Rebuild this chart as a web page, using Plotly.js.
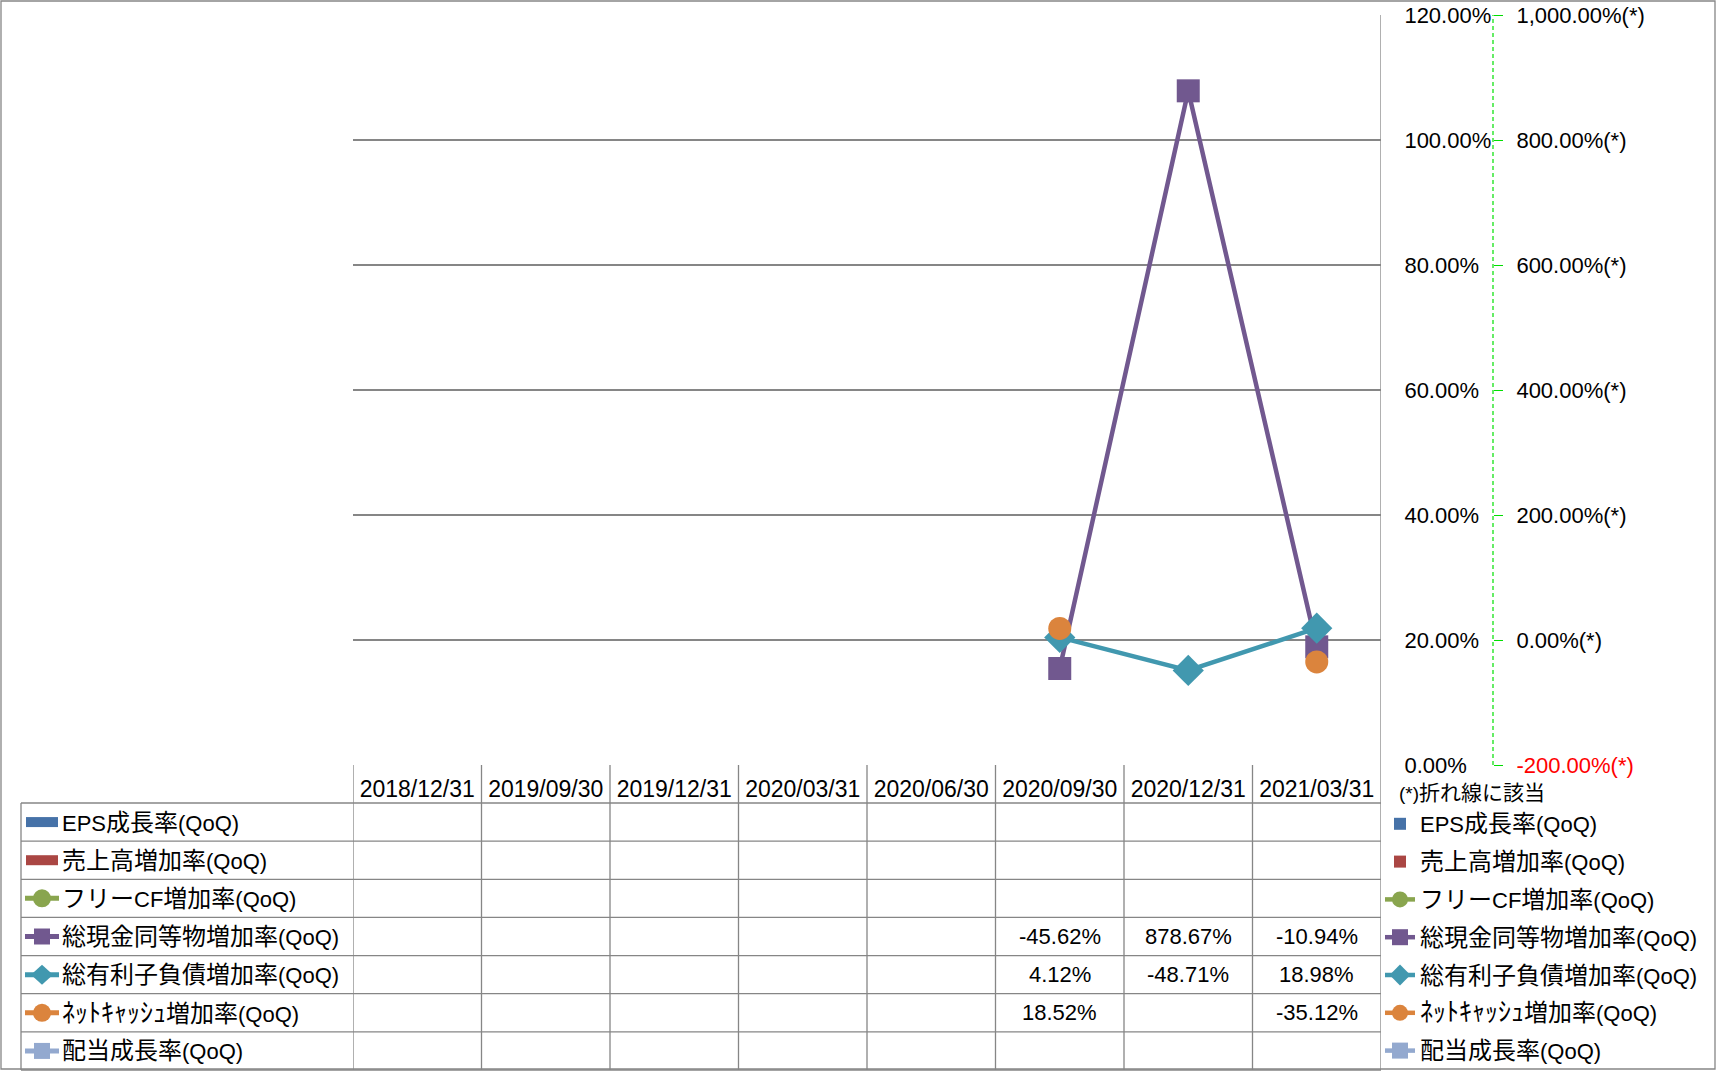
<!DOCTYPE html>
<html><head><meta charset="utf-8">
<script src="https://cdn.plot.ly/plotly-3.0.1.min.js"></script>
<style>html,body{margin:0;padding:0;background:#fff}#chart{width:1717px;height:1071px}</style>
</head><body><div id="chart"></div>
<script>
// ---------- data ----------
const categories = ['2018/12/31','2019/09/30','2019/12/31','2020/03/31','2020/06/30','2020/09/30','2020/12/31','2021/03/31'];
const seriesNames = ['EPS成長率(QoQ)','売上高増加率(QoQ)','フリーCF増加率(QoQ)','総現金同等物増加率(QoQ)','総有利子負債増加率(QoQ)','ﾈｯﾄｷｬｯｼｭ増加率(QoQ)','配当成長率(QoQ)'];
const epsGrowth      = [null,null,null,null,null,null,null,null];
const salesGrowth    = [null,null,null,null,null,null,null,null];
const fcfGrowth      = [null,null,null,null,null,null,null,null];
const cashGrowth     = [null,null,null,null,null,-45.62,878.67,-10.94];
const debtGrowth     = [null,null,null,null,null,4.12,-48.71,18.98];
const netCashGrowth  = [null,null,null,null,null,18.52,null,-35.12];
const dividendGrowth = [null,null,null,null,null,null,null,null];
const leftTickVals  = [0,20,40,60,80,100,120];
const leftTickText  = ['0.00%','20.00%','40.00%','60.00%','80.00%','100.00%','120.00%'];
const rightTickVals = [-200,0,200,400,600,800,1000];
const rightTickText = ['<span style="color:#FF0000">-200.00%(*)</span>','0.00%(*)','200.00%(*)','400.00%(*)','600.00%(*)','800.00%(*)','1,000.00%(*)'];
const noteText = '(*)折れ線に該当';

// ---------- styles ----------
const seriesValues = [epsGrowth,salesGrowth,fcfGrowth,cashGrowth,debtGrowth,netCashGrowth,dividendGrowth];
const styles = [
  {kind:'bar',  color:'#4672A8'},
  {kind:'bar',  color:'#AA4643'},
  {kind:'line', color:'#89A54E', symbol:'circle', size:23},
  {kind:'line', color:'#71588F', symbol:'square', size:23},
  {kind:'line', color:'#4198AF', symbol:'diamond', size:24},
  {kind:'line', color:'#DB843D', symbol:'circle', size:23},
  {kind:'line', color:'#93A9CF', symbol:'square', size:23}
];
const FONT = 'Liberation Sans, Arial, Noto Sans CJK JP, sans-serif';
const GRID = '#868686';
const W = 1717, H = 1071;
const ML = 353, MR = 100, MT = 15, MB = 306;
const PW = W - ML - MR, PH = H - MT - MB;
const px2x = px => (px - ML) / PW;
const py2y = py => (H - MB - py) / PH;
const plotRight = 1381;
const tableTop = 803, rowH = (1070 - 803) / 7, tableBottom = 1070;

// wider rendering for Japanese glyphs (as in the original's font)
function styleLabel(text, cjkSize, halfSize) {
  return text
    .replace(/[\uFF61-\uFF9F]+/g, m => `<span style="font-size:${halfSize}px">${m}</span>`)
    .replace(/[\u3000-\u30FF\u4E00-\u9FFF]+/g, m => `<span style="font-size:${cjkSize}px">${m}</span>`);
}

const traces = seriesNames.map((name, i) => {
  const st = styles[i];
  const label = styleLabel(name, 24, 26);
  if (st.kind === 'bar') {
    return {type:'bar', name:label, x:categories, y:seriesValues[i], yaxis:'y',
      marker:{color:st.color}, legendgroup:'g'+i, hoverinfo:'skip'};
  }
  return {type:'scatter', mode:'lines+markers', name:label, x:categories, y:seriesValues[i], yaxis:'y2',
    line:{color:st.color, width:4.5}, marker:{color:st.color, symbol:st.symbol, size:st.size},
    connectgaps:false, legendgroup:'g'+i, cliponaxis:false};
});

const shapes = [];
const annotations = [];
// outer border
shapes.push({type:'rect', xref:'paper', yref:'paper', x0:px2x(1), x1:px2x(1715), y0:py2y(1), y1:py2y(1069), line:{color:GRID, width:1.3}});
// table column lines
for (let k = 0; k <= categories.length; k++) {
  shapes.push({type:'line', xref:'x', yref:'paper', x0:k-0.5, x1:k-0.5,
    y0: k === categories.length ? 1 : 0, y1: py2y(tableBottom), line:{color:GRID, width:1.3}});
}
// table row lines
for (let r = 0; r <= 7; r++) {
  const y = py2y(tableTop + r*rowH);
  shapes.push({type:'line', xref:'paper', yref:'paper', x0:px2x(21), x1:px2x(plotRight), y0:y, y1:y, line:{color:GRID, width:1.3}});
}
shapes.push({type:'line', xref:'paper', yref:'paper', x0:px2x(21), x1:px2x(21), y0:py2y(tableTop), y1:py2y(tableBottom), line:{color:GRID, width:1.3}});
// secondary axis dashed line
shapes.push({type:'line', xref:'paper', yref:'paper', x0:px2x(1493), x1:px2x(1493), y0:0, y1:1, line:{color:'#00E000', width:1.2, dash:'4px,3px'}});

// note under the secondary axis
annotations.push({xref:'paper', yref:'paper', x:px2x(1397), y:py2y(792), xanchor:'left', yanchor:'middle',
  text:styleLabel(noteText, 21, 21), showarrow:false, font:{family:FONT, size:19, color:'#000'}});

// table cells + left legend keys
seriesNames.forEach((name, i) => {
  const cy = tableTop + rowH*(i+0.5);
  const st = styles[i];
  annotations.push({xref:'paper', yref:'paper', x:px2x(60), y:py2y(cy), xanchor:'left', yanchor:'middle',
    text:styleLabel(name, 24, 26), showarrow:false, font:{family:FONT, size:22, color:'#000'}});
  if (st.kind === 'bar') {
    shapes.push({type:'rect', xref:'paper', yref:'paper', x0:px2x(26), x1:px2x(58), y0:py2y(cy-5), y1:py2y(cy+5),
      fillcolor:st.color, line:{width:0}});
  } else {
    shapes.push({type:'line', xref:'paper', yref:'paper', x0:px2x(25), x1:px2x(59), y0:py2y(cy), y1:py2y(cy),
      line:{color:st.color, width:5}});
    if (st.symbol === 'circle') {
      shapes.push({type:'circle', xref:'paper', yref:'paper', x0:px2x(33), x1:px2x(51), y0:py2y(cy-9), y1:py2y(cy+9),
        fillcolor:st.color, line:{width:0}});
    } else if (st.symbol === 'square') {
      shapes.push({type:'rect', xref:'paper', yref:'paper', x0:px2x(34), x1:px2x(50), y0:py2y(cy-8), y1:py2y(cy+8),
        fillcolor:st.color, line:{width:0}});
    } else {
      const xs = [px2x(31), px2x(42), px2x(53), px2x(42)];
      const ys = [py2y(cy), py2y(cy-10), py2y(cy), py2y(cy+10)];
      shapes.push({type:'path', xref:'paper', yref:'paper',
        path:`M ${xs[0]} ${ys[0]} L ${xs[1]} ${ys[1]} L ${xs[2]} ${ys[2]} L ${xs[3]} ${ys[3]} Z`,
        fillcolor:st.color, line:{width:0}});
    }
  }
  seriesValues[i].forEach((v, j) => {
    if (v === null) return;
    annotations.push({xref:'x', yref:'paper', x:categories[j], y:py2y(cy), xanchor:'center', yanchor:'middle',
      text:v.toFixed(2)+'%', showarrow:false, font:{family:FONT, size:22, color:'#000'}});
  });
});

const layout = {
  width:W, height:H,
  margin:{l:ML, r:MR, t:MT, b:MB, pad:0, autoexpand:false},
  paper_bgcolor:'#fff', plot_bgcolor:'rgba(0,0,0,0)',
  font:{family:FONT, size:22, color:'#000'},
  barmode:'group',
  showlegend:true,
  legend:{x:px2x(1380), y:py2y(803), xanchor:'left', yanchor:'top', bgcolor:'rgba(0,0,0,0)', borderwidth:0,
    font:{family:FONT, size:22, color:'#000'}, traceorder:'grouped', tracegroupgap:6.2},
  xaxis:{type:'category', categoryorder:'array', categoryarray:categories, range:[-0.5, categories.length-0.5],
    domain:[0, px2x(plotRight)], showgrid:false, zeroline:false, showline:false,
    ticks:'outside', ticklen:3, tickcolor:'rgba(0,0,0,0)', tickfont:{family:FONT, size:23, color:'#000'}},
  yaxis:{range:[0,120], side:'right', tickmode:'array', tickvals:leftTickVals, ticktext:leftTickText,
    showgrid:true, gridcolor:GRID, gridwidth:1.3, zeroline:false, showline:false,
    ticks:'outside', ticklen:18, tickcolor:'rgba(0,0,0,0)', tickfont:{family:FONT, size:22, color:'#000'}},
  yaxis2:{overlaying:'y', anchor:'free', position:px2x(1493), side:'right', range:[-200,1000],
    tickmode:'array', tickvals:rightTickVals, ticktext:rightTickText, showgrid:false, zeroline:false, showline:false,
    ticks:'outside', ticklen:9, tickcolor:'#00E000', tickwidth:1, tickfont:{family:FONT, size:22, color:'#000'},
    ticklabelstandoff:9},
  shapes, annotations
};
Plotly.newPlot('chart', traces, layout, {staticPlot:true, displayModeBar:false});
</script></body></html>
